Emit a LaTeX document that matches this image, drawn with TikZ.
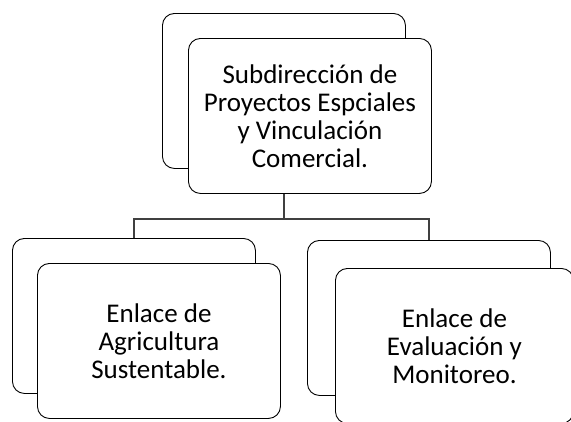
\documentclass[tikz,border=0pt]{standalone}
\usepackage{fontspec}
\setmainfont{Carlito}

\begin{document}
\begin{tikzpicture}[x=1pt, y=-1pt,
  card/.style={draw, fill=white, rounded corners=12pt, line width=0.9pt, anchor=north west, inner sep=0pt,
    minimum width=243pt, minimum height=155pt, align=center, font=\fontsize{27}{28}\selectfont},
  link/.style={draw=black!75, line width=1.3pt}]
\useasboundingbox (0, 0) rectangle (571, 421);
\clip (0, 0) rectangle (571, 421);
\node [card] (subBack) at (162, 13) {};
\node [card] (agrBack) at (12, 238) {};
\node [card] (evaBack) at (307, 240) {};
\path (subBack.south) ++(0, 50) coordinate (bus);
\draw [link] (subBack.south) -- (bus);
\draw [link] (agrBack.north) |- (bus) -| (evaBack.north);
\node [card] (sub) at (188, 38) {Subdirección de\\Proyectos Espciales\\y Vinculación\\Comercial.};
\node [card] (agr) at (37, 263) {Enlace de\\Agricultura\\Sustentable.};
\node [card, minimum width=238pt] (eva) at (335, 268) {Enlace de\\Evaluación y\\Monitoreo.};
\end{tikzpicture}
\end{document}
